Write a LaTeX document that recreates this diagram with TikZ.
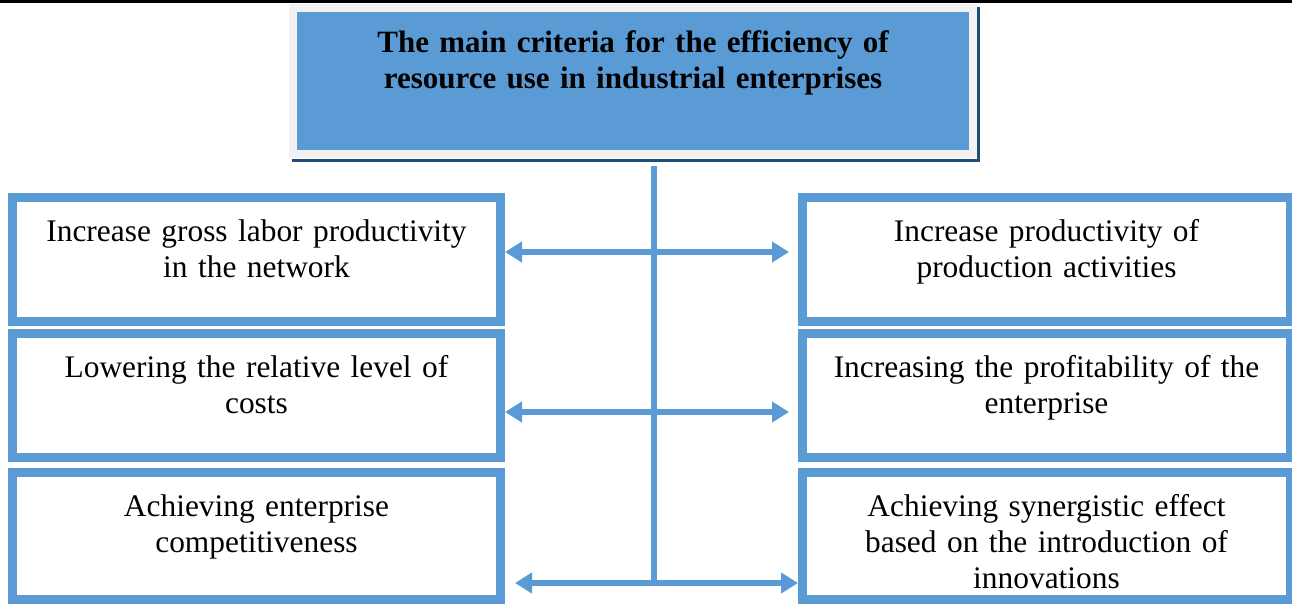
\documentclass[tikz,border=0pt]{standalone}
\usepackage{fontspec}
\setmainfont{Liberation Serif}
\usetikzlibrary{arrows.meta}
\definecolor{boxblue}{HTML}{5B9BD5}
\definecolor{frame}{HTML}{F2F2F2}
\definecolor{navy}{HTML}{1F4E79}

\tikzset{
  main/.style={draw=frame, fill=boxblue, line width=4pt, anchor=north west,
    inner sep=0pt, minimum width=340pt, text width=330pt, align=center,
    font=\bfseries\fontsize{15.5pt}{18pt}\selectfont,
    text height=22pt, text depth=50.75pt},
  crit/.style={draw=boxblue, line width=4.5pt, anchor=north west,
    inner sep=0pt, minimum width=244pt, text width=236pt, align=center,
    font=\fontsize{15.7pt}{18pt}\selectfont,
    text height=21.75pt, text depth=40.25pt},
  spine/.style={draw=boxblue, line width=3pt},
  link/.style={draw=boxblue, line width=3.25pt,
    {Triangle[length=8.5pt,width=10pt]}-{Triangle[length=8.5pt,width=10pt]}},
}

\begin{document}
\begin{tikzpicture}[x=0.5pt,y=-0.5pt]
  \useasboundingbox (0,0) rectangle (1292,607);

  % rule along the top edge
  \draw[black, line width=1.5pt] (0,1.5) -- (1292,1.5);

  % shadow of the heading box
  \draw[navy, line width=1.5pt] (978.5,7) -- (978.5,160.5) -- (292,160.5);

  \path
    (289,4) node[main] (crit) {The main criteria for the efficiency of\\resource use in industrial enterprises}
    (8,193) node[crit] (lb1) {Increase gross labor productivity\\in the network}
    (8,329) node[crit] (lb2) {Lowering the relative level of\\costs}
    (8,468) node[crit, text depth=41.75pt] (lb3) {Achieving enterprise\\competitiveness}
    (798,193) node[crit] (rb1) {Increase productivity of\\production activities}
    (798,329) node[crit] (rb2) {Increasing the profitability of the\\enterprise}
    (798,468) node[crit, text depth=41.75pt] (rb3) {Achieving synergistic effect\\based on the introduction of\\innovations}
    ;

  \coordinate (s0) at (654,166);
  \coordinate (s1) at (654,252);
  \coordinate (s2) at (654,412);
  \coordinate (s3) at (654,583);

  \draw[spine] (s0) -- (s3);
  \draw[link, shorten >=4.5pt] (s1 -| lb1.east) -- (s1 -| rb1.west);
  \draw[link, shorten >=4.5pt] (s2 -| lb2.east) -- (s2 -| rb2.west);
  \draw[link, shorten <=5pt] (s3 -| lb3.east) -- (s3 -| rb3.west);
\end{tikzpicture}
\end{document}
